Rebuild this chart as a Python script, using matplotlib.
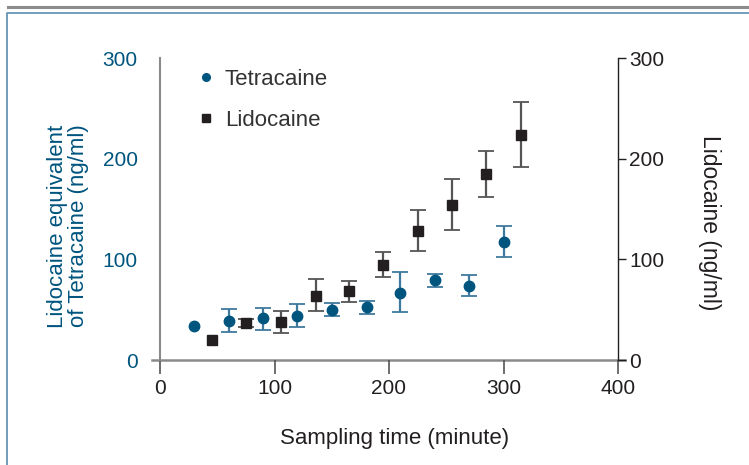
import numpy as np
import matplotlib.pyplot as plt
from matplotlib.lines import Line2D

# data
tetra_t = [30, 60, 90, 120, 150, 181, 210, 240, 270, 300]
tetra_y = [34, 39, 42, 44, 50, 53, 67, 79, 74, 117]
tetra_lo = [34, 28, 30, 33, 44, 46, 48, 73, 64, 102]
tetra_hi = [34, 51, 52, 56, 57, 59, 87, 85, 84, 133]

lido_t = [45, 75, 106, 136, 165, 195, 225, 255, 285, 315]
lido_y = [20, 37, 38, 64, 69, 94, 128, 154, 185, 224]
lido_lo = [20, 33, 27, 49, 58, 82, 108, 129, 162, 192]
lido_hi = [20, 41, 49, 80, 78, 107, 149, 180, 208, 256]

xticks = [0, 100, 200, 300, 400]
yticks = [0, 100, 200, 300]

blue = '#00557f'
dark = '#231f20'
gray = '#8a8a8a'

plt.rcParams['font.family'] = ['Liberation Sans', 'DejaVu Sans']

fig = plt.figure(figsize=(7.49, 4.65), dpi=100)
ax = fig.add_axes([160/749, 105/465, 458/749, 302/465])
ax2 = ax.twinx()


def draw(x, y, lo, hi, marker, color, ecolor, ms):
    x, y, lo, hi = map(np.array, (x, y, lo, hi))
    m = hi > lo
    ax.errorbar(x[m], y[m], yerr=[y[m] - lo[m], hi[m] - y[m]], fmt='none',
                ecolor=ecolor, elinewidth=1.6, capsize=6, capthick=1.3, zorder=2)
    ax.plot(x, y, marker, color=color, ms=ms, ls='', zorder=3)


draw(tetra_t, tetra_y, tetra_lo, tetra_hi, 'o', blue, '#3f7a9e', 7.5)
draw(lido_t, lido_y, lido_lo, lido_hi, 's', dark, '#555555', 7)

ax.set_xlim(0, 400)
ax.set_ylim(0, 300)
ax2.set_ylim(0, 300)
ax.set_xticks(xticks)
ax.set_yticks(yticks)
ax2.set_yticks(yticks)

for s in ['top', 'right']:
    ax.spines[s].set_visible(False)
for s in ['top', 'left', 'bottom']:
    ax2.spines[s].set_visible(False)
ax.spines['left'].set_color(gray)
ax.spines['left'].set_linewidth(1.5)
ax.spines['bottom'].set_visible(False)
ax2.spines['right'].set_color(dark)
ax2.spines['right'].set_linewidth(1.0)
ax.plot([-0.018, 1.016], [0, 0], transform=ax.transAxes, color=gray, lw=1.8, clip_on=False, zorder=1)

ax.tick_params(axis='x', direction='out', length=10, width=1.2, color='#555555',
               labelsize=15, labelcolor=dark, pad=4)
ax.tick_params(axis='y', length=0, labelsize=15, labelcolor=blue, pad=16)
ax2.tick_params(axis='y', direction='out', length=6, width=1.0, color=dark,
                labelsize=15, labelcolor=dark, pad=2)

fig.text(395/749, 1 - 438/465, 'Sampling time (minute)', ha='center', va='center',
         fontsize=16, color=dark)
fig.text(68/749, 1 - 226/465, 'Lidocaine equivalent\nof Tetracaine (ng/ml)', ha='center',
         va='center', rotation=90, fontsize=16, color=blue, linespacing=1.0)
fig.text(710/749, 1 - 223/465, 'Lidocaine (ng/ml)', ha='center', va='center',
         rotation=270, fontsize=16.5, color=dark)

# legend
legend_handles = [
    Line2D([], [], marker='o', ls='', color=blue, ms=5.5),
    Line2D([], [], marker='s', ls='', color=dark, ms=5.5),
]
leg = ax.legend(legend_handles, ['Tetracaine', 'Lidocaine'], loc='upper left',
                bbox_to_anchor=(0.037, 1.03), frameon=False, fontsize=16,
                handletextpad=0.45, labelspacing=0.9, handlelength=0.8)
for txt in leg.get_texts():
    txt.set_color('#333333')

# frame
fig.add_artist(Line2D([8/749, 1], [1 - 7/465, 1 - 7/465], color='#8c8c8c', lw=2.2))
fig.add_artist(Line2D([7/749, 7/749, 1], [0, 1 - 13/465, 1 - 13/465], color='#5a8db0', lw=1.2))

fig.savefig('out.png', dpi=100)
